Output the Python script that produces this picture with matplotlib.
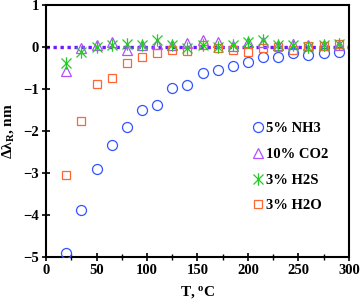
import matplotlib
matplotlib.use("Agg")
import matplotlib.pyplot as plt
from matplotlib.ticker import MultipleLocator
from matplotlib.path import Path

plt.rcParams['font.family'] = ['Liberation Serif', 'DejaVu Serif']
plt.rcParams['font.weight'] = 'bold'
plt.rcParams['mathtext.fontset'] = 'custom'
plt.rcParams['mathtext.rm'] = 'Liberation Serif:bold'
plt.rcParams['mathtext.bf'] = 'Liberation Serif:bold'
plt.rcParams['mathtext.it'] = 'Liberation Serif:bold'

temps = [20, 35, 50, 65, 80, 95, 110, 125, 140, 155, 170, 185, 200, 215, 230, 245, 260, 275, 290]
nh3 = [-4.90, -3.88, -2.90, -2.35, -1.90, -1.50, -1.39, -0.99, -0.91, -0.63, -0.55, -0.45, -0.36,
       -0.25, -0.25, -0.16, -0.20, -0.16, -0.12]
co2 = [-0.58, -0.04, 0.03, 0.12, -0.08, 0.05, 0.06, 0.03, 0.08, 0.15, 0.12, 0.02, 0.12,
       0.12, 0.03, 0.06, 0.03, 0.03, 0.04]
h2s = [-0.40, -0.13, 0.00, 0.03, 0.07, 0.05, 0.16, 0.03, -0.04, 0.03, 0.00, 0.03, 0.10,
       0.16, 0.03, 0.03, 0.00, 0.03, 0.06]
h2o = [-3.05, -1.78, -0.89, -0.75, -0.39, -0.24, -0.16, -0.08, -0.10, 0.03, -0.03, -0.08, -0.12,
       -0.04, 0.00, -0.09, 0.02, 0.02, 0.06]
labels = ['5% NH3', '10% CO2', '3% H2S', '3% H2O']

# asterisk marker: vertical bar plus an X
star = Path([(0, -1), (0, 1), (-0.8, -0.8), (0.8, 0.8), (-0.8, 0.8), (0.8, -0.8)],
            [Path.MOVETO, Path.LINETO, Path.MOVETO, Path.LINETO, Path.MOVETO, Path.LINETO])

fig = plt.figure(figsize=(3.6, 3.03), dpi=100)
ax = fig.add_axes([0.128, 0.152, 0.841, 0.833])

ax.axhline(0, color='#6a1cff', lw=2.4, ls=(0, (1, 1.1)), zorder=1)

ax.plot(temps, nh3, ls='none', marker='o', ms=7.2, mfc='none', mec='#3355ff', mew=0.9,
        label=labels[0], zorder=3)
ax.plot(temps, co2, ls='none', marker='^', ms=7.5, mfc='none', mec='#b050ff', mew=0.9,
        label=labels[1], zorder=3)
ax.plot(temps, h2s, ls='none', marker=star, ms=9, mfc='none', mec='#22cc22', mew=0.9,
        label=labels[2], zorder=4)
ax.plot(temps, h2o, ls='none', marker='s', ms=6, mfc='none', mec='#ff6633', mew=0.9,
        label=labels[3], zorder=3)

ax.set_xlim(0, 300)
ax.set_ylim(-5, 1)
ax.xaxis.set_major_locator(MultipleLocator(50))
ax.xaxis.set_minor_locator(MultipleLocator(25))
ax.yaxis.set_major_locator(MultipleLocator(1))
ax.tick_params(axis='both', which='major', direction='inout', length=6, width=1.2,
               labelsize=10.5, pad=2)
ax.tick_params(axis='x', which='minor', direction='inout', length=4, width=1.0)
ax.tick_params(top=False, right=False)
for s in ax.spines.values():
    s.set_linewidth(1.5)

ax.set_xlabel(r'T, $^{\mathbf{o}}$C', fontsize=11, fontweight='bold', labelpad=5)
ax.set_ylabel(r'Δλ$_{\mathbf{R}}$, nm', fontsize=11, fontweight='bold', labelpad=5)

leg = ax.legend(loc='lower right', bbox_to_anchor=(0.975, 0.125), frameon=False,
                handletextpad=0.05, handlelength=1.0, labelspacing=0.85,
                prop={'family': 'Liberation Serif', 'weight': 'bold', 'size': 10.5})

fig.savefig('out.png', dpi=100)
